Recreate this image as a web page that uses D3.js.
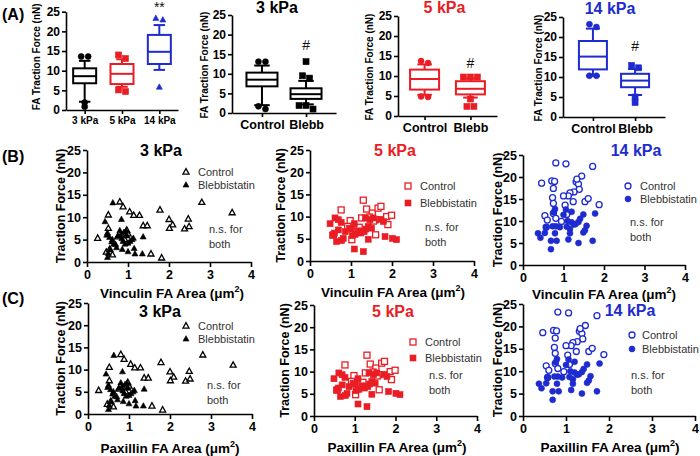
<!DOCTYPE html>
<html>
<head>
<meta charset="utf-8">
<script src="https://cdn.jsdelivr.net/npm/d3@7"></script>
<style>
  html, body { margin: 0; padding: 0; background: #fff; }
  svg { display: block; font-family: "Liberation Sans", Arial, sans-serif; }
</style>
</head>
<body>
<svg id="chart" width="700" height="456"></svg>
<script>
// ---------------- DATA ----------------
const forceTicks = [0, 5, 10, 15, 20, 25];
const areaTicks = [0, 1, 2, 3, 4];
const stiffness = ["3 kPa", "5 kPa", "14 kPa"];
const conditions = ["Control", "Blebb"];
const legendLabels = ["Control", "Blebbistatin"];
const nsText = ["n.s. for", "both"];

// box summaries: [whiskerLow, Q1, median, Q3, whiskerHigh]
const stiffnessBoxes = [[2.1, 6.8, 8.6, 10.6, 12.5], [5.9, 6.6, 9.2, 11.7, 12.9], [10.2, 11.7, 14.8, 19.1, 21.6]];
const stiffnessOutliers = [[13.6, 13.6, 1.9, 0.85], [14.0, 13.1, 5.1, 4.7], [23.3, 22.9, 5.8]];
const stiffnessSig = ["", "", "**"];

const boxes3kPa = [[2.0, 6.8, 8.5, 10.3, 12.1], [2.2, 3.6, 4.8, 6.3, 8.2]];
const outliers3kPa = [[13.1, 13.1, 1.7, 1.0], [13.1, 9.5, 8.9, 1.9, 1.9, 1.0]];
const boxes5kPa = [[5.3, 6.6, 9.25, 11.6, 12.9], [4.6, 5.4, 6.8, 8.7, 9.4]];
const outliers5kPa = [[13.75, 13.25, 4.9, 4.75], [9.75, 9.75, 9.75, 4.25, 2.4, 2.4]];
const boxes14kPa = [[10.3, 11.9, 15.1, 19.0, 22.1], [5.5, 7.45, 9.1, 10.8, 12.0]];
const outliers14kPa = [[23.2, 22.5, 10.3, 10.3], [12.9, 12.3, 5.0, 3.6]];
const treatSig = ["", "#"];

// scatter: [FA area (um^2), traction force (nN)]
const control3 = [[0.26,5.3],[0.52,10.5],[0.52,7.5],[0.47,2.2],[0.62,1.6],[0.8,13.4],[0.88,12.3],[1.04,11.2],[1.14,10.4],[1.28,10.4],[1.37,8.1],[1.47,8.1],[1.56,1.8],[1.78,11.6],[1.82,0.9],[2.0,9.5],[2.09,8.3],[2.01,7.5],[2.38,7.4],[2.47,9.6],[2.49,7.9],[2.8,13.3],[3.54,11.0],[0.97,7.1],[1.0,6.3],[0.85,6.0],[0.75,5.6],[0.92,5.0],[0.55,2.8]];
const blebb3 = [[0.63,13.2],[0.84,9.5],[0.44,9.0],[0.5,6.5],[0.48,6.0],[0.55,5.5],[0.62,5.0],[0.6,4.5],[0.65,4.0],[0.7,3.9],[0.75,5.8],[0.8,7.0],[0.82,6.0],[0.85,5.2],[0.88,4.6],[0.9,6.6],[0.95,6.9],[0.98,5.8],[1.0,4.2],[1.05,4.6],[1.1,5.0],[1.13,5.3],[1.37,5.6],[1.15,3.0],[1.17,1.8],[1.35,1.8],[1.0,2.3],[0.86,2.8],[0.5,1.0],[0.52,1.9],[0.57,2.8],[0.72,3.2],[0.93,4.0]];
const control5 = [[0.76,11.5],[0.98,9.1],[0.92,7.8],[1.02,4.8],[1.3,13.7],[1.38,11.7],[1.52,10.8],[1.66,11.9],[1.73,12.3],[1.59,9.3],[1.87,10.0],[1.99,10.3],[1.9,8.2],[1.6,5.9],[0.57,5.9],[1.26,9.7],[1.45,9.9],[1.55,9.0],[1.2,7.6]];
const blebb5 = [[0.49,8.4],[0.61,9.7],[0.69,9.3],[0.76,8.7],[0.6,6.3],[0.65,4.4],[0.77,4.6],[0.81,5.1],[1.08,8.4],[1.02,7.2],[1.03,5.7],[1.08,2.7],[1.3,2.1],[1.24,6.3],[1.36,7.2],[1.42,7.8],[1.46,9.3],[1.54,9.7],[1.72,9.4],[1.79,8.9],[1.83,5.5],[2.01,5.1],[2.11,4.8],[1.42,4.9],[1.32,6.6],[1.18,6.8],[0.96,7.4],[0.86,6.6],[0.69,7.0],[1.5,7.4],[1.35,9.7],[0.55,5.8],[1.1,6.0]];
const control14 = [[0.81,23.2],[1.06,23.0],[1.72,22.4],[0.46,18.6],[0.71,19.1],[0.75,17.4],[0.73,15.3],[0.75,14.0],[1.31,18.9],[1.37,18.4],[1.45,20.2],[1.39,17.2],[1.26,16.6],[1.16,16.4],[1.12,15.7],[1.0,15.7],[1.24,14.4],[1.53,14.4],[1.61,15.1],[1.88,13.7],[1.04,13.6],[0.54,11.2],[0.6,10.2],[0.57,8.6],[0.75,11.7],[0.81,10.6],[0.95,9.9],[1.08,11.5],[1.33,19.5],[0.78,19.0]];
const blebb14 = [[0.79,12.7],[1.06,12.6],[1.2,12.1],[1.0,11.4],[1.49,11.5],[1.78,11.7],[1.41,10.5],[1.37,9.8],[1.26,9.2],[1.57,8.9],[1.49,7.4],[1.53,7.9],[1.16,8.2],[1.08,8.7],[0.91,8.6],[0.81,8.8],[0.73,8.8],[0.58,8.6],[0.54,7.3],[0.37,7.2],[0.43,6.2],[0.79,7.2],[1.16,7.2],[1.12,5.8],[0.69,5.5],[0.83,5.5],[0.69,3.6],[1.37,5.0],[1.72,5.5],[1.2,9.7],[1.3,9.3],[0.76,12.0],[1.1,10.0]];

// ---------------- STYLE ----------------
const BLACK = "#000000", RED = "#ea1d25", BLUE = "#1e2bcf";
const FONT = "'Liberation Sans', Arial, sans-serif";
const svg = d3.select("#chart");

function styleAxis(g, size) {
  g.selectAll("path.domain").attr("stroke", "#000").attr("stroke-width", 1.6);
  g.selectAll(".tick line").attr("stroke", "#000").attr("stroke-width", 1.6);
  g.selectAll(".tick text").attr("font-family", FONT).attr("font-weight", "bold")
    .attr("font-size", size).attr("fill", "#000");
}

function marker(g, shape, cx, cy, size, color, filled, sw) {
  let el;
  if (shape === "circle") {
    el = g.append("circle").attr("cx", cx).attr("cy", cy).attr("r", size / 2);
  } else if (shape === "square") {
    el = g.append("rect").attr("x", cx - size / 2).attr("y", cy - size / 2).attr("width", size).attr("height", size);
  } else {
    const h = size * 0.9;
    el = g.append("path").attr("d", `M${cx},${cy - h * 0.62}L${cx + size / 2},${cy + h * 0.38}L${cx - size / 2},${cy + h * 0.38}Z`);
  }
  el.attr("fill", filled ? color : "#fff").attr("stroke", color).attr("stroke-width", filled ? 0.6 : sw);
  return el;
}

function text(x, y, str, opts) {
  const t = svg.append("text").attr("x", x).attr("y", y).text(str)
    .attr("font-family", FONT).attr("font-size", opts.size || 12)
    .attr("font-weight", opts.bold ? "bold" : "normal")
    .attr("fill", opts.color || "#000")
    .attr("text-anchor", opts.anchor || "start");
  if (opts.rotate) t.attr("transform", `rotate(-90,${x},${y})`);
  return t;
}

// ---------------- BOX PANELS ----------------
function boxPanel(cfg) {
  const y = d3.scaleLinear().domain([0, 25]).range([cfg.y0, cfg.y1]);
  const x = d3.scalePoint().domain(cfg.cats).range([cfg.x0, cfg.x1]).padding(cfg.pad);
  const g = svg.append("g");
  const ya = g.append("g").attr("transform", `translate(${cfg.x0},0)`)
    .call(d3.axisLeft(y).tickValues(forceTicks).tickSize(4).tickPadding(2).tickSizeOuter(0));
  styleAxis(ya, 12);
  const xa = g.append("g").attr("transform", `translate(0,${cfg.y0})`)
    .call(d3.axisBottom(x).tickSize(4).tickPadding(cfg.xpad).tickSizeOuter(0));
  styleAxis(xa, cfg.xfont);

  cfg.cats.forEach((c, i) => {
    const s = cfg.boxes[i];
    const col = cfg.colors[i];
    const cx = x(c), w = cfg.boxW, cw = w * 0.5;
    const bg = g.append("g").attr("stroke", col).attr("stroke-width", 2).attr("fill", "none");
    bg.append("line").attr("x1", cx).attr("x2", cx).attr("y1", y(s[0])).attr("y2", y(s[1]));
    bg.append("line").attr("x1", cx).attr("x2", cx).attr("y1", y(s[3])).attr("y2", y(s[4]));
    bg.append("line").attr("x1", cx - cw / 2).attr("x2", cx + cw / 2).attr("y1", y(s[0])).attr("y2", y(s[0]));
    bg.append("line").attr("x1", cx - cw / 2).attr("x2", cx + cw / 2).attr("y1", y(s[4])).attr("y2", y(s[4]));
    bg.append("rect").attr("x", cx - w / 2).attr("y", y(s[3])).attr("width", w).attr("height", y(s[1]) - y(s[3])).attr("fill", "#fff");
    bg.append("line").attr("x1", cx - w / 2).attr("x2", cx + w / 2).attr("y1", y(s[2])).attr("y2", y(s[2]));
    // outliers: clusters of close values spread horizontally
    const vals = cfg.outliers[i].slice().sort((a, b) => b - a);
    const clusters = [];
    vals.forEach(v => {
      const last = clusters[clusters.length - 1];
      if (last && Math.abs(last[0] - v) <= 1.0) last.push(v); else clusters.push([v]);
    });
    clusters.forEach(cl => {
      cl.forEach((v, k) => {
        const off = (k - (cl.length - 1) / 2) * cfg.spread;
        marker(g, cfg.shapes[i], cx + off, y(v), cfg.msize, col, true, 1);
      });
    });
    if (cfg.sig[i]) {
      const top = Math.max(s[4], d3.max(cfg.outliers[i]));
      text(cx, y(top) - cfg.sigGap, cfg.sig[i], { size: cfg.sigSize, bold: false, color: "#111", anchor: "middle" });
    }
  });
  text(cfg.labX, (cfg.y0 + cfg.y1) / 2 + cfg.labDy, "FA Traction Force (nN)", { size: 10, bold: true, anchor: "middle", rotate: true });
  if (cfg.title) text((cfg.x0 + cfg.x1) / 2 + cfg.titleDx, cfg.titleY, cfg.title, { size: 16, bold: true, color: cfg.titleColor, anchor: "middle" });
}

boxPanel({ x0: 66, x1: 178, y0: 110, y1: 11.7, pad: 0.5, cats: stiffness, boxes: stiffnessBoxes, outliers: stiffnessOutliers,
  colors: [BLACK, RED, BLUE], shapes: ["circle", "square", "triangle"], boxW: 23, msize: 6, spread: 7,
  sig: stiffnessSig, sigGap: 6, sigSize: 14, xfont: 10, xpad: 3, labX: 40, labDy: -4, title: null });
boxPanel({ x0: 232, x1: 336, y0: 113, y1: 15, pad: 0.68, cats: conditions, boxes: boxes3kPa, outliers: outliers3kPa,
  colors: [BLACK, BLACK], shapes: ["circle", "square"], boxW: 31, msize: 6, spread: 7,
  sig: treatSig, sigGap: 12, sigSize: 14, xfont: 12.5, xpad: 3, labX: 208, labDy: 1, title: "3 kPa", titleColor: BLACK, titleY: 13, titleDx: -7 });
boxPanel({ x0: 398, x1: 497, y0: 116, y1: 16, pad: 0.58, cats: conditions, boxes: boxes5kPa, outliers: outliers5kPa,
  colors: [RED, RED], shapes: ["circle", "square"], boxW: 29, msize: 6, spread: 7,
  sig: treatSig, sigGap: 9, sigSize: 14, xfont: 12.5, xpad: 3, labX: 373, labDy: 1, title: "5 kPa", titleColor: RED, titleY: 13, titleDx: -3 });
boxPanel({ x0: 563, x1: 665, y0: 117, y1: 17, pad: 0.71, cats: conditions, boxes: boxes14kPa, outliers: outliers14kPa,
  colors: [BLUE, BLUE], shapes: ["circle", "square"], boxW: 28, msize: 6, spread: 7,
  sig: treatSig, sigGap: 14, sigSize: 14, xfont: 12.5, xpad: 3, labX: 542, labDy: 1, title: "14 kPa", titleColor: BLUE, titleY: 14, titleDx: -4 });

// ---------------- SCATTER PANELS ----------------
function scatterPanel(cfg) {
  const x = d3.scaleLinear().domain([0, 4]).range([cfg.x0, cfg.x1]);
  const y = d3.scaleLinear().domain([0, 25]).range([cfg.y0, cfg.y1]);
  const g = svg.append("g");
  const xa = g.append("g").attr("transform", `translate(0,${cfg.y0})`)
    .call(d3.axisBottom(x).tickValues(areaTicks).tickFormat(d3.format("d")).tickSize(5).tickPadding(3).tickSizeOuter(0));
  styleAxis(xa, 12.5);
  const ya = g.append("g").attr("transform", `translate(${cfg.x0},0)`)
    .call(d3.axisLeft(y).tickValues(forceTicks).tickSize(4).tickPadding(2).tickSizeOuter(0));
  styleAxis(ya, 12.5);

  const col = cfg.color;
  cfg.control.forEach(d => marker(g, cfg.shape, x(d[0]), y(d[1]), 6, col, false, 1.3));
  cfg.blebb.forEach(d => marker(g, cfg.shape, x(d[0]), y(d[1]), 6, col, true, 1.3));

  // legend
  marker(g, cfg.shape, cfg.legX, cfg.legY, 6, col, false, 1.3);
  marker(g, cfg.shape, cfg.legX, cfg.legY + cfg.legDy, 6, col, true, 1.3);
  const gap = cfg.legGap || 12;
  text(cfg.legX + gap, cfg.legY + 4, legendLabels[0], { size: 11, color: "#333" });
  text(cfg.legX + gap, cfg.legY + cfg.legDy + 4, legendLabels[1], { size: 11, color: "#333" });
  text(cfg.nsX, cfg.nsY, nsText[0], { size: 11, color: "#333" });
  text(cfg.nsX, cfg.nsY + 15, nsText[1], { size: 11, color: "#333" });

  text(cfg.titleX, cfg.titleY, cfg.title, { size: 16, bold: true, color: col, anchor: "middle" });
  const lab = text(cfg.xlabX, cfg.xlabY, "", { size: 13.5, bold: true, anchor: "middle" });
  lab.append("tspan").text(cfg.xlabel + " (\u03BCm");
  lab.append("tspan").text("2").attr("font-size", 9).attr("dy", -6);
  lab.append("tspan").text(")").attr("dy", 6);
  text(cfg.ylabX, (cfg.y0 + cfg.y1) / 2, "Traction Force (nN)", { size: 12.5, bold: true, anchor: "middle", rotate: true });
}

const rows = [
  { xlabel: "Vinculin FA Area", panels: [
    { x0: 87, x1: 251, y0: 262, y1: 150, titleX: 161, titleY: 156, legX: 186, legY: 172, legDy: 13, nsX: 209, nsY: 233, xlabX: 172, xlabY: 298, ylabX: 65 },
    { x0: 310, x1: 474, y0: 261, y1: 150, titleX: 395, titleY: 156, legX: 408, legY: 186, legDy: 17, nsX: 425, nsY: 231, xlabX: 393, xlabY: 297, ylabX: 285 },
    { x0: 523, x1: 685, y0: 265, y1: 155, titleX: 636, titleY: 156, legX: 628, legY: 186, legDy: 13, nsX: 630, nsY: 226, xlabX: 604, xlabY: 299, ylabX: 502 } ] },
  { xlabel: "Paxillin FA Area", panels: [
    { x0: 88, x1: 252, y0: 414, y1: 303, titleX: 160, titleY: 317, legX: 186, legY: 326, legDy: 13, nsX: 207, nsY: 389, xlabX: 170, xlabY: 453, ylabX: 65 },
    { x0: 314, x1: 477, y0: 416, y1: 305, titleX: 393, titleY: 317, legX: 413, legY: 342, legDy: 16, nsX: 429, nsY: 379, xlabX: 397, xlabY: 452, ylabX: 289 },
    { x0: 523, x1: 695, y0: 416, y1: 304, titleX: 630, titleY: 316, legX: 632, legY: 335, legDy: 14, legGap: 10, nsX: 631, nsY: 379, xlabX: 610, xlabY: 452, ylabX: 502 } ] }
];
const sets = [
  { title: stiffness[0], color: BLACK, shape: "triangle", control: control3, blebb: blebb3 },
  { title: stiffness[1], color: RED, shape: "square", control: control5, blebb: blebb5 },
  { title: stiffness[2], color: BLUE, shape: "circle", control: control14, blebb: blebb14 }
];
rows.forEach(r => r.panels.forEach((p, i) => scatterPanel(Object.assign({}, p, sets[i], { xlabel: r.xlabel }))));

// panel letters
text(2, 20, "(A)", { size: 16, bold: true });
text(2, 162, "(B)", { size: 16, bold: true });
text(2, 304, "(C)", { size: 16, bold: true });
</script>
</body>
</html>
